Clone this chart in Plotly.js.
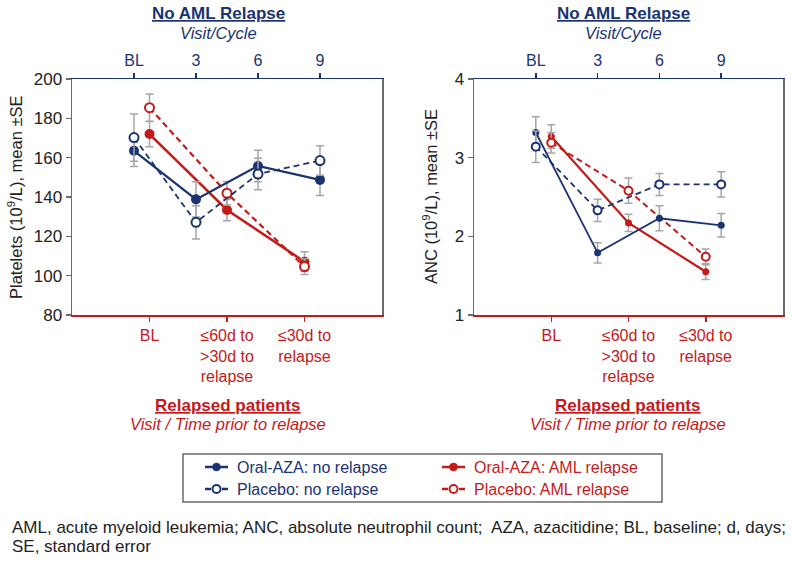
<!DOCTYPE html>
<html>
<head>
<meta charset="utf-8">
<script src="https://cdn.plot.ly/plotly-3.0.1.min.js"></script>
<style>html,body{margin:0;padding:0;background:#fff;}#chart{width:792px;height:568px;}</style>
</head>
<body>
<div id="chart"></div>
<script>
// ---- data ----
const topCats = ['BL', '3', '6', '9'];
const bottomCats = ['BL', '≤60d to<br>>30d to<br>relapse', '≤30d to<br>relapse'];

const pltOralNoRel = [163.5, 138.8, 155.8, 148.7];
const pltOralNoRelSE = [8, 9, 8, 8];
const pltPlaNoRel = [170.2, 127.1, 151.7, 158.5];
const pltPlaNoRelSE = [12, 8.5, 8, 7.5];
const pltOralRel = [172, 133.4, 107.1];
const pltOralRelSE = [6.5, 5.5, 5];
const pltPlaRel = [185.4, 141.9, 104.6];
const pltPlaRelSE = [7, 6, 4];

const ancOralNoRel = [3.32, 1.79, 2.23, 2.14];
const ancOralNoRelSE = [0.2, 0.13, 0.16, 0.15];
const ancPlaNoRel = [3.14, 2.33, 2.66, 2.66];
const ancPlaNoRelSE = [0.2, 0.14, 0.14, 0.16];
const ancOralRel = [3.27, 2.17, 1.55];
const ancOralRelSE = [0.15, 0.11, 0.1];
const ancPlaRel = [3.19, 2.58, 1.74];
const ancPlaRelSE = [0.13, 0.16, 0.1];

const seriesNames = ['Oral-AZA: no relapse', 'Oral-AZA: AML relapse', 'Placebo: no relapse', 'Placebo: AML relapse'];

// ---- styling ----
const NAVY = '#1b3471';
const RED = '#c41a1a';
const GRAY = '#a6a6a6';
const AXGRAY = '#6b6b6b';
const FONT = 'Liberation Sans, Arial, sans-serif';
const W = 792, H = 568;
const px = v => v / W;
const py = v => 1 - v / H;

const topX = topCats.map((_, i) => i);
const botX = bottomCats.map((_, i) => i + 1);

function tr(name, x, y, se, color, open, dash, xa, ya, msize, lw) {
  return {
    type: 'scatter', mode: 'lines+markers', name: name,
    x: x, y: y, xaxis: xa, yaxis: ya, showlegend: false,
    line: {color: color, width: lw, dash: dash ? '6px,4px' : 'solid'},
    marker: {symbol: 'circle', size: msize, color: open ? '#ffffff' : color,
             line: {color: color, width: open ? 2 : 0}},
    error_y: {type: 'data', array: se, visible: true, color: GRAY, thickness: 1.5, width: 4},
    cliponaxis: false
  };
}

const data = [
  // left panel
  tr(seriesNames[0], topX, pltOralNoRel, pltOralNoRelSE, NAVY, false, false, 'x2', 'y', 10, 2.2),
  tr(seriesNames[1], botX, pltOralRel, pltOralRelSE, RED, false, false, 'x', 'y', 10, 2.5),
  tr(seriesNames[2], topX, pltPlaNoRel, pltPlaNoRelSE, NAVY, true, true, 'x2', 'y', 9, 1.8),
  tr(seriesNames[3], botX, pltPlaRel, pltPlaRelSE, RED, true, true, 'x', 'y', 9, 2.2),
  // right panel
  tr(seriesNames[0], topX, ancOralNoRel, ancOralNoRelSE, NAVY, false, false, 'x4', 'y2', 7, 1.8),
  tr(seriesNames[1], botX, ancOralRel, ancOralRelSE, RED, false, false, 'x3', 'y2', 7, 2.2),
  tr(seriesNames[2], topX, ancPlaNoRel, ancPlaNoRelSE, NAVY, true, true, 'x4', 'y2', 8, 1.8),
  tr(seriesNames[3], botX, ancPlaRel, ancPlaRelSE, RED, true, true, 'x3', 'y2', 8, 2)
];

const yDom = [py(315), py(79)];
const leftDom = [px(72), px(382)];
const rightDom = [px(474), px(783)];

function botAxis(dom, anchor) {
  return {
    domain: dom, anchor: anchor, type: 'linear', range: [0, 4],
    tickmode: 'array', tickvals: botX, ticktext: bottomCats,
    ticks: 'outside', ticklen: 5, tickwidth: 1.5, tickcolor: RED,
    showline: true, linecolor: RED, linewidth: 1.5, showgrid: false, zeroline: false,
    tickfont: {family: FONT, size: 16, color: RED}, fixedrange: true
  };
}
function topAxis(overlay, anchor) {
  return {
    overlaying: overlay, anchor: anchor, side: 'top', type: 'linear', range: [-1, 4],
    tickmode: 'array', tickvals: topX, ticktext: topCats,
    ticks: 'outside', ticklen: 5, tickwidth: 1.5, tickcolor: NAVY,
    showline: true, linecolor: NAVY, linewidth: 1.5, showgrid: false, zeroline: false,
    tickfont: {family: FONT, size: 16, color: NAVY}, fixedrange: true
  };
}
function yAxis(dom, anchor, range, dtick) {
  return {
    domain: dom, anchor: anchor, range: range, dtick: dtick,
    ticks: 'outside', ticklen: 5, tickwidth: 1.5, tickcolor: AXGRAY,
    showline: true, linecolor: AXGRAY, linewidth: 1.5, mirror: true,
    showgrid: false, zeroline: false,
    tickfont: {family: FONT, size: 17, color: '#222'}, fixedrange: true
  };
}

function ann(text, x, y, color, size, extra) {
  return Object.assign({
    text: text, xref: 'paper', yref: 'paper', x: px(x), y: py(y),
    xanchor: 'center', yanchor: 'middle', showarrow: false,
    font: {family: FONT, size: size, color: color}
  }, extra || {});
}

const annotations = [
  ann('<u><b>No AML Relapse</b></u>', 218, 14, NAVY, 17),
  ann('<i>Visit/Cycle</i>', 218, 33, NAVY, 16.5),
  ann('<u><b>No AML Relapse</b></u>', 623, 14, NAVY, 17),
  ann('<i>Visit/Cycle</i>', 623, 33, NAVY, 16.5),
  ann('<u><b>Relapsed patients</b></u>', 228, 405, RED, 17),
  ann('<i>Visit / Time prior to relapse</i>', 228, 424, RED, 16.5),
  ann('<u><b>Relapsed patients</b></u>', 628, 405, RED, 17),
  ann('<i>Visit / Time prior to relapse</i>', 628, 424, RED, 16.5),
  ann('Platelets (10<sup>9</sup>/L), mean ±SE', 15, 197, '#222', 16.5, {textangle: -90}),
  ann('ANC (10<sup>9</sup>/L), mean ±SE', 430, 197, '#222', 16.5, {textangle: -90}),
  ann('AML, acute myeloid leukemia; ANC, absolute neutrophil count;  AZA, azacitidine; BL, baseline; d, days;',
      10, 527, '#222', 17, {xanchor: 'left', align: 'left'}),
  ann('SE, standard error', 10, 546, '#222', 17, {xanchor: 'left', align: 'left'})
];

// ---- legend (drawn as shapes + text) ----
const shapes = [{
  type: 'rect', xref: 'paper', yref: 'paper',
  x0: px(183), x1: px(662), y0: py(454), y1: py(502),
  line: {color: AXGRAY, width: 1.5}, fillcolor: 'rgba(0,0,0,0)'
}];
const legendItems = [
  {name: seriesNames[0], color: NAVY, open: false, dash: false, lx: 205, ly: 467},
  {name: seriesNames[1], color: RED, open: false, dash: false, lx: 442, ly: 467},
  {name: seriesNames[2], color: NAVY, open: true, dash: true, lx: 205, ly: 489},
  {name: seriesNames[3], color: RED, open: true, dash: true, lx: 442, ly: 489}
];
legendItems.forEach(it => {
  const len = 23, r = 4;
  if (it.dash) {
    shapes.push({type: 'line', xref: 'paper', yref: 'paper', x0: px(it.lx), x1: px(it.lx + 6), y0: py(it.ly), y1: py(it.ly),
                 line: {color: it.color, width: 2.5}});
    shapes.push({type: 'line', xref: 'paper', yref: 'paper', x0: px(it.lx + len - 6), x1: px(it.lx + len), y0: py(it.ly), y1: py(it.ly),
                 line: {color: it.color, width: 2.5}});
  } else {
    shapes.push({type: 'line', xref: 'paper', yref: 'paper', x0: px(it.lx), x1: px(it.lx + len), y0: py(it.ly), y1: py(it.ly),
                 line: {color: it.color, width: 2.5}});
  }
  const cx = it.lx + len / 2;
  shapes.push({type: 'circle', xref: 'paper', yref: 'paper', x0: px(cx - r), x1: px(cx + r), y0: py(it.ly + r), y1: py(it.ly - r),
               line: {color: it.color, width: it.open ? 2 : 0.5}, fillcolor: it.open ? '#ffffff' : it.color});
  annotations.push(ann(it.name, it.lx + 30, it.ly, it.color, 16, {xanchor: 'left'}));
});

const layout = {
  width: W, height: H,
  margin: {l: 0, r: 0, t: 0, b: 0},
  paper_bgcolor: '#fff', plot_bgcolor: '#fff',
  showlegend: false,
  font: {family: FONT, size: 15, color: '#222'},
  xaxis: botAxis(leftDom, 'y'),
  xaxis2: topAxis('x', 'y'),
  xaxis3: botAxis(rightDom, 'y2'),
  xaxis4: topAxis('x3', 'y2'),
  yaxis: yAxis(yDom, 'x', [80, 200], 20),
  yaxis2: yAxis(yDom, 'x3', [1, 4], 1),
  annotations: annotations,
  shapes: shapes
};

Plotly.newPlot('chart', data, layout, {displayModeBar: false, staticPlot: true});
</script>
</body>
</html>
